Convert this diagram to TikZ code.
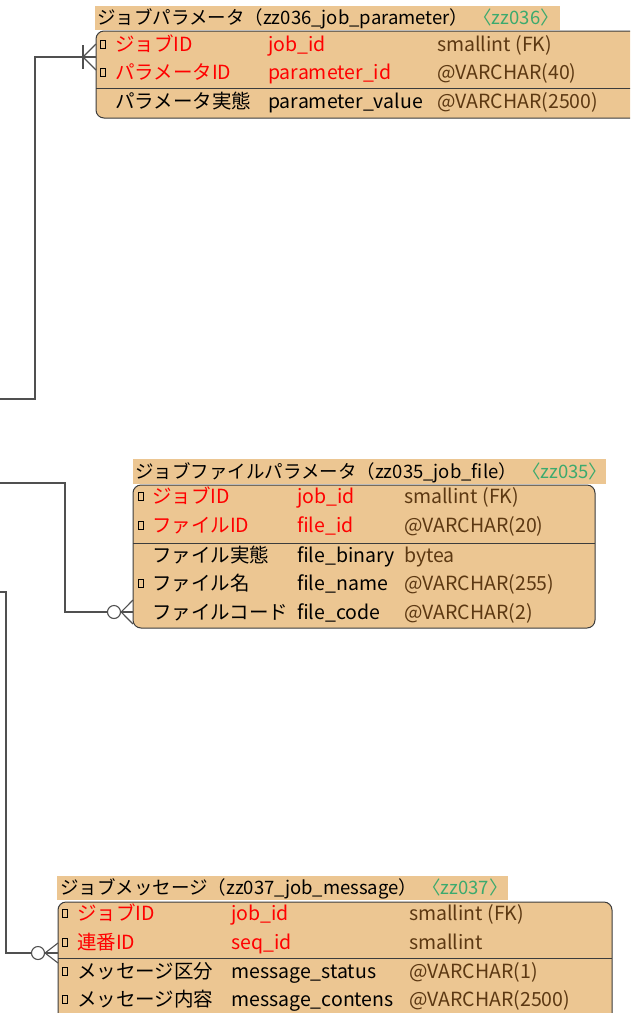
\documentclass[tikz,border=0pt]{standalone}
\usepackage{fontspec}
\setmainfont{Noto Sans CJK JP}
\definecolor{tanc}{RGB}{236,198,146}
\definecolor{keyred}{RGB}{255,0,0}
\definecolor{typebrown}{RGB}{92,56,18}
\definecolor{tagc}{RGB}{60,170,110}
\definecolor{boxc}{RGB}{60,60,60}
\definecolor{connc}{RGB}{80,80,80}
\newcommand{\rowfont}{\fontsize{19.5}{19.5}\selectfont}
\newcommand{\hdrfont}{\fontsize{18.5}{18.5}\selectfont}
\newcommand{\erow}[9]{%
  \node[#9] (#1-n) at (#3,#2) {#6};
  \node[#9] (#1-c) at (#4,#2) {#7};
  \node[typetxt] (#1-t) at (#5,#2) {#8};
}
\begin{document}
\begin{tikzpicture}[x=1pt,y=-1pt,
  tbl/.style={draw=boxc, fill=tanc, rounded corners=8pt, line width=1pt},
  hdrbg/.style={fill=tanc},
  hdrtxt/.style={anchor=base west, inner sep=0pt, font=\hdrfont, text=black},
  keytxt/.style={anchor=base west, inner sep=0pt, font=\rowfont, text=keyred},
  atttxt/.style={anchor=base west, inner sep=0pt, font=\rowfont, text=black},
  typetxt/.style={anchor=base west, inner sep=0pt, font=\rowfont, text=typebrown},
  icon/.style={draw=black, line width=0.8pt, minimum width=4.5pt, minimum height=8pt, inner sep=0pt},
  sep/.style={draw=boxc, line width=1pt},
  conn/.style={draw=connc, line width=1.1pt},
  circ/.style={draw=connc, line width=1.1pt, fill=white, circle, minimum size=13pt, inner sep=0pt}]
\useasboundingbox (0,0) rectangle (630,1013);
\clip (0,0) rectangle (630,1013);

% ---------- Table 1 ----------
\fill[hdrbg] (95,6) rectangle (560,30);
\node[hdrtxt] (h1) at (97,24.5) {ジョブパラメータ（zz036\_job\_parameter）\hspace{5pt}\textcolor{tagc}{〈zz036〉}};
\path[tbl] (96,31) rectangle (680,118);
\draw[sep] (96,88) -- (680,88);
\node[icon] (r11-i) at (103,44) {};
\node[icon] (r12-i) at (103,72) {};
\erow{r11}{51}{115}{268}{437}{ジョブID}{job\_id}{smallint (FK)}{keytxt}
\erow{r12}{79}{115}{268}{437}{パラメータID}{parameter\_id}{@VARCHAR(40)}{keytxt}
\erow{r13}{108}{115}{268}{437}{パラメータ実態}{parameter\_value}{@VARCHAR(2500)}{atttxt}

% ---------- Table 2 ----------
\fill[hdrbg] (133,459) rectangle (606,484);
\node[hdrtxt] (h2) at (135,478) {ジョブファイルパラメータ（zz035\_job\_file）\hspace{5pt}\textcolor{tagc}{〈zz035〉}};
\path[tbl] (133,485) rectangle (595,628);
\draw[sep] (133,543) -- (595,543);
\node[icon] (r21-i) at (141,496) {};
\node[icon] (r22-i) at (141,525) {};
\node[icon] (r24-i) at (141,583) {};
\erow{r21}{503}{152}{297}{404}{ジョブID}{job\_id}{smallint (FK)}{keytxt}
\erow{r22}{532}{152}{297}{404}{ファイルID}{file\_id}{@VARCHAR(20)}{keytxt}
\erow{r23}{562}{152}{297}{404}{ファイル実態}{file\_binary}{bytea}{atttxt}
\erow{r24}{590}{152}{297}{404}{ファイル名}{file\_name}{@VARCHAR(255)}{atttxt}
\erow{r25}{619}{152}{297}{404}{ファイルコード}{file\_code}{@VARCHAR(2)}{atttxt}

% ---------- Table 3 ----------
\fill[hdrbg] (57,876) rectangle (508,900);
\node[hdrtxt] (h3) at (60,894.5) {ジョブメッセージ（zz037\_job\_message）\hspace{5pt}\textcolor{tagc}{〈zz037〉}};
\path[tbl] (58,902) rectangle (612,1040);
\draw[sep] (58,958) -- (612,958);
\node[icon] (r31-i) at (65,913) {};
\node[icon] (r32-i) at (65,942) {};
\node[icon] (r33-i) at (65,971) {};
\node[icon] (r34-i) at (65,999) {};
\erow{r31}{920}{77}{231}{409}{ジョブID}{job\_id}{smallint (FK)}{keytxt}
\erow{r32}{949}{77}{231}{409}{連番ID}{seq\_id}{smallint}{keytxt}
\erow{r33}{978}{77}{231}{409}{メッセージ区分}{message\_status}{@VARCHAR(1)}{atttxt}
\erow{r34}{1006}{77}{231}{409}{メッセージ内容}{message\_contens}{@VARCHAR(2500)}{atttxt}

% ---------- Connectors ----------
% to table 1 (one or many)
\coordinate (c1s) at (0,399);
\coordinate (c1e) at (96,57);
\draw[conn] (c1s) -- ++(35,0) |- (c1e);
\draw[conn] ([xshift=-13pt]c1e) -- ([yshift=13pt]c1e);
\draw[conn] ([xshift=-13pt]c1e) -- ([yshift=-13pt]c1e);
\draw[conn] ([xshift=-13pt,yshift=12pt]c1e) -- ([xshift=-13pt,yshift=-12pt]c1e);

% to table 2 (zero or many)
\coordinate (c2s) at (0,483);
\coordinate (c2e) at (133,612);
\node[circ] (c2o) at (114,612) {};
\draw[conn] (c2s) -- ++(65,0) |- (c2o.west);
\draw[conn] (c2o.east) -- ([yshift=12pt]c2e);
\draw[conn] (c2o.east) -- (c2e);
\draw[conn] (c2o.east) -- ([yshift=-12pt]c2e);

% to table 3 (zero or many)
\coordinate (c3s) at (0,592);
\coordinate (c3e) at (58,953);
\node[circ] (c3o) at (38,953) {};
\draw[conn] (c3s) -- ++(6,0) |- (c3o.west);
\draw[conn] (c3o.east) -- ([yshift=10pt]c3e);
\draw[conn] (c3o.east) -- (c3e);
\draw[conn] (c3o.east) -- ([yshift=-10pt]c3e);
\end{tikzpicture}
\end{document}
